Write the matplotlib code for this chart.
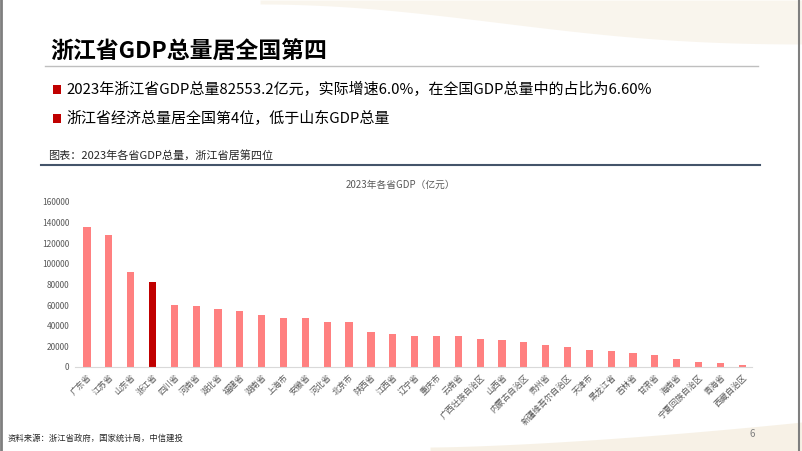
import numpy as np
import matplotlib.pyplot as plt
from matplotlib.patches import Rectangle

plt.rcParams['font.family'] = ['Noto Sans CJK SC', 'DejaVu Sans']

# data
provinces = ['广东省', '江苏省', '山东省', '浙江省', '四川省', '河南省', '湖北省', '福建省',
             '湖南省', '上海市', '安徽省', '河北省', '北京市', '陕西省', '江西省', '辽宁省',
             '重庆市', '云南省', '广西壮族自治区', '山西省', '内蒙古自治区', '贵州省',
             '新疆维吾尔自治区', '天津市', '黑龙江省', '吉林省', '甘肃省', '海南省',
             '宁夏回族自治区', '青海省', '西藏自治区']
gdp = [135673, 128222, 92069, 82553, 60133, 59132, 55804, 54355,
       50013, 47219, 47051, 43944, 43761, 33786, 32200, 30209,
       30146, 30021, 27202, 25698, 24627, 20913,
       19126, 16737, 15884, 13531, 11864, 7551,
       5315, 3799, 2393]
yticks = [0, 20000, 40000, 60000, 80000, 100000, 120000, 140000, 160000]
highlight = '浙江省'

W, H = 802, 451
fig = plt.figure(figsize=(W / 100, H / 100), dpi=100)
fig.patch.set_facecolor('white')

# page decoration (frame + faint swooshes)
bg = fig.add_axes([0, 0, 1, 1])
bg.set_xlim(0, W)
bg.set_ylim(H, 0)
bg.axis('off')
t = np.linspace(0, 1, 200)
bg.fill_between(260 + 542 * t, 0, 4 + 40 * t ** 2 + 25 * np.sin(np.pi * t) * t,
                color='#f7f1e6', alpha=0.7, lw=0)
bg.fill_between(430 + 372 * t, H, 447 - 25 * t ** 1.5, color='#f4ecdc', alpha=0.7, lw=0)
bg.plot([1, 1], [0, H], color='#7f7f7f', lw=2)
bg.plot([799, 799], [0, H], color='#7f7f7f', lw=1.5)

# header
bg.text(50, 52, '浙江省GDP总量居全国第四', fontsize=16.5, fontweight='bold',
        color='black', va='center', ha='left')
bg.plot([45, 758], [66, 66], color='#bfbfbf', lw=1)
for yy, txt in [(89, '2023年浙江省GDP总量82553.2亿元，实际增速6.0%，在全国GDP总量中的占比为6.60%'),
                (118, '浙江省经济总量居全国第4位，低于山东GDP总量')]:
    bg.add_patch(Rectangle((53, yy - 4.5), 8, 9, color='#c00000', lw=0))
    bg.text(66, yy, txt, fontsize=10.8, color='black', va='center', ha='left')

bg.text(48, 155, '图表：2023年各省GDP总量，浙江省居第四位', fontsize=8,
        color='#262626', va='center', ha='left')
bg.plot([41, 760], [164.5, 164.5], color='#44546a', lw=1.5)
bg.text(400, 185, '2023年各省GDP（亿元）', fontsize=7, color='#595959',
        va='center', ha='center')
bg.text(8, 438, '资料来源：浙江省政府，国家统计局，中信建投', fontsize=6,
        color='#262626', va='center', ha='left', style='italic')
bg.text(752, 434, '6', fontsize=7, color='#7f7f7f', va='center', ha='center')

# chart
ax = fig.add_axes([75 / W, 84 / H, 677 / W, (367 - 201.7) / H])
x = np.arange(len(provinces))
colors = ['#c00000' if p == highlight else '#ff8080' for p in provinces]
ax.bar(x, gdp, width=0.33, color=colors, zorder=2)
ax.set_xlim(-0.55, len(provinces) - 0.55)
ax.set_ylim(0, 160000)
ax.set_yticks(yticks)
ax.set_yticklabels([str(v) for v in yticks], fontsize=6, color='#595959')
ax.set_xticks(x)
ax.set_xticklabels(provinces, rotation=45, ha='right', va='top',
                   rotation_mode='anchor', fontsize=6, color='#595959')
ax.tick_params(length=0, pad=4)
for s in ['top', 'right', 'left']:
    ax.spines[s].set_visible(False)
ax.spines['bottom'].set_color('#d9d9d9')
ax.patch.set_alpha(0)

fig.savefig('out.png', dpi=100)
